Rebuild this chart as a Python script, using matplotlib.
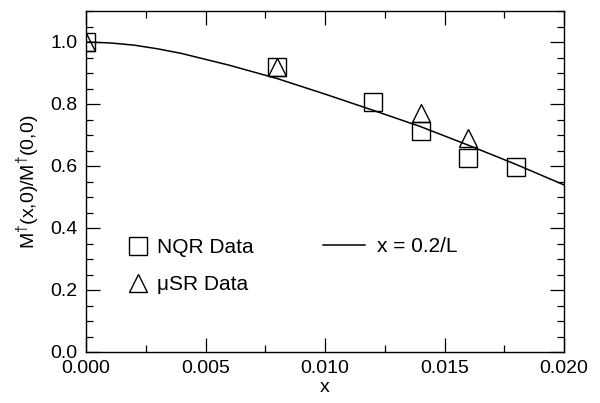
import matplotlib
matplotlib.use("Agg")
import matplotlib.pyplot as plt
from matplotlib.ticker import MultipleLocator, FormatStrFormatter

plt.rcParams['font.family'] = ['Liberation Sans', 'DejaVu Sans']
plt.rcParams['mathtext.fontset'] = 'custom'
plt.rcParams['mathtext.rm'] = 'Liberation Sans'
plt.rcParams['mathtext.it'] = 'Liberation Sans'

# NQR data (squares)
nqr_x = [0.000, 0.008, 0.012, 0.014, 0.016, 0.018]
nqr_y = [1.000, 0.920, 0.807, 0.714, 0.627, 0.598]
# muSR data (triangles)
musr_x = [0.000, 0.008, 0.014, 0.016]
musr_y = [1.000, 0.920, 0.770, 0.689]
# theory curve x = 0.2/L
curve_x = [0.000, 0.001, 0.002, 0.003, 0.004, 0.006, 0.008, 0.010, 0.012, 0.014, 0.016, 0.018, 0.020]
curve_y = [1.000, 0.997, 0.990, 0.978, 0.963, 0.925, 0.882, 0.832, 0.780, 0.727, 0.667, 0.605, 0.539]

fig = plt.figure(figsize=(6.0, 4.03), dpi=100)
ax = fig.add_axes([86/600, 1-352/403, (564-86)/600, (352-11)/403])

line, = ax.plot(curve_x, curve_y, color='black', lw=1.1)
sq, = ax.plot(nqr_x, nqr_y, ls='none', marker='s', ms=13, mfc='none', mec='black', mew=1.0)
tri, = ax.plot(musr_x, musr_y, ls='none', marker='^', ms=13, mfc='none', mec='black', mew=1.0)

ax.set_xlim(0, 0.020)
ax.set_ylim(0, 1.1)
ax.xaxis.set_major_locator(MultipleLocator(0.005))
ax.xaxis.set_minor_locator(MultipleLocator(0.0025))
ax.yaxis.set_major_locator(MultipleLocator(0.2))
ax.yaxis.set_minor_locator(MultipleLocator(0.05))
ax.xaxis.set_major_formatter(FormatStrFormatter('%.3f'))
ax.yaxis.set_major_formatter(FormatStrFormatter('%.1f'))
ax.tick_params(which='both', direction='in', top=True, right=True, labelsize=14, width=0.9)
ax.tick_params(which='major', length=10, pad=6)
ax.tick_params(which='minor', length=5)
for s in ax.spines.values():
    s.set_linewidth(1.0)

ax.set_xlabel('x', fontsize=14, labelpad=1)
ax.set_ylabel(r'M$^{\dagger}$(x,0)/M$^{\dagger}$(0,0)', fontsize=14, labelpad=6)

leg1 = ax.legend([sq, tri], ['NQR Data', 'μSR Data'], loc='center left',
                 bbox_to_anchor=(0.0816, 0.251), frameon=False, fontsize=15,
                 handlelength=1.2, handletextpad=0.34, labelspacing=0.87,
                 borderaxespad=0, borderpad=0)
ax.add_artist(leg1)
ax.legend([line], ['x = 0.2/L'], loc='center left', bbox_to_anchor=(0.496, 0.308),
          frameon=False, fontsize=15, handlelength=2.0, handletextpad=0.58,
          borderaxespad=0, borderpad=0)

fig.savefig('out.png', dpi=100)
